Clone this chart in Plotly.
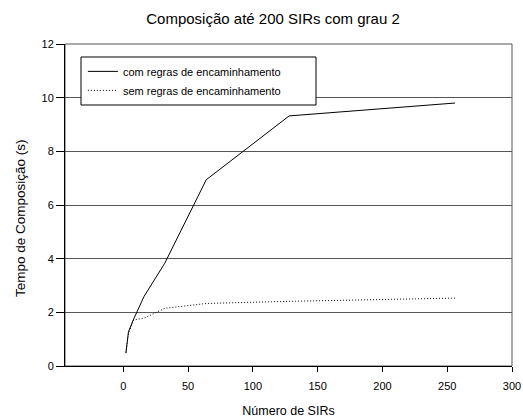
import plotly.graph_objects as go

x_sirs = [2, 4, 8, 16, 32, 64, 128, 256]
com_regras = [0.48, 1.28, 1.75, 2.59, 3.83, 6.94, 9.32, 9.80]
sem_regras = [0.50, 1.22, 1.72, 1.78, 2.15, 2.33, 2.41, 2.53]

x_ticks = [0, 50, 100, 150, 200, 250, 300]
y_ticks = [0, 2, 4, 6, 8, 10, 12]

FONT = "Liberation Sans, Arial, sans-serif"

fig = go.Figure()
fig.add_trace(go.Scatter(x=x_sirs, y=com_regras, mode="lines",
                         name="com regras de encaminhamento",
                         line=dict(color="black", width=1)))
fig.add_trace(go.Scatter(x=x_sirs, y=sem_regras, mode="lines",
                         name="sem regras de encaminhamento",
                         line=dict(color="black", width=1, dash="1px,2px")))

fig.update_layout(
    width=523, height=418,
    margin=dict(l=65, r=11, t=44, b=52, autoexpand=False),
    paper_bgcolor="white", plot_bgcolor="white",
    font=dict(family=FONT, size=11, color="black"),
    title=dict(text="Composição até 200 SIRs com grau 2", x=273 / 523, xanchor="center",
               xref="container",
               y=1 - 19 / 418, yanchor="middle", yref="container",
               font=dict(size=15, family=FONT, color="black")),
    legend=dict(x=0.04, y=0.96, xanchor="left", yanchor="top",
                borderwidth=0, bgcolor="rgba(0,0,0,0)",
                font=dict(size=11, family=FONT), tracegroupgap=0),
    showlegend=True,
)
fig.update_xaxes(range=[-45, 300], tickvals=x_ticks, ticks="outside", ticklen=5,
                 tickcolor="black", showline=True, linecolor="black", linewidth=1,
                 showgrid=False, zeroline=False, automargin=False,
                 ticklabelstandoff=5,
                 title=dict(text="Número de SIRs", standoff=16, font=dict(size=12.5)))
fig.update_yaxes(range=[0, 12], tickvals=y_ticks, ticks="outside", ticklen=8,
                 tickcolor="black", showline=True, linecolor="black", linewidth=1,
                 showgrid=True, gridcolor="#555555", gridwidth=1, zeroline=False,
                 automargin=False)
fig.add_annotation(text="Tempo de Composição (s)", xref="paper", yref="paper",
                   x=(20 - 65) / 447, y=(366 - 218) / 322, textangle=-90,
                   xanchor="center", yanchor="middle",
                   showarrow=False, font=dict(size=13.5, family=FONT, color="black"))
fig.add_shape(type="rect", xref="paper", yref="paper", x0=0, y0=0, x1=1, y1=1,
              line=dict(color="#555555", width=1), layer="below")
fig.add_shape(type="rect", xref="paper", yref="paper",
              x0=(81 - 65) / 447, x1=(316 - 65) / 447,
              y0=(366 - 105) / 322, y1=(366 - 57) / 322,
              line=dict(color="black", width=1), fillcolor="white", layer="above")

fig.write_html("out.html")
